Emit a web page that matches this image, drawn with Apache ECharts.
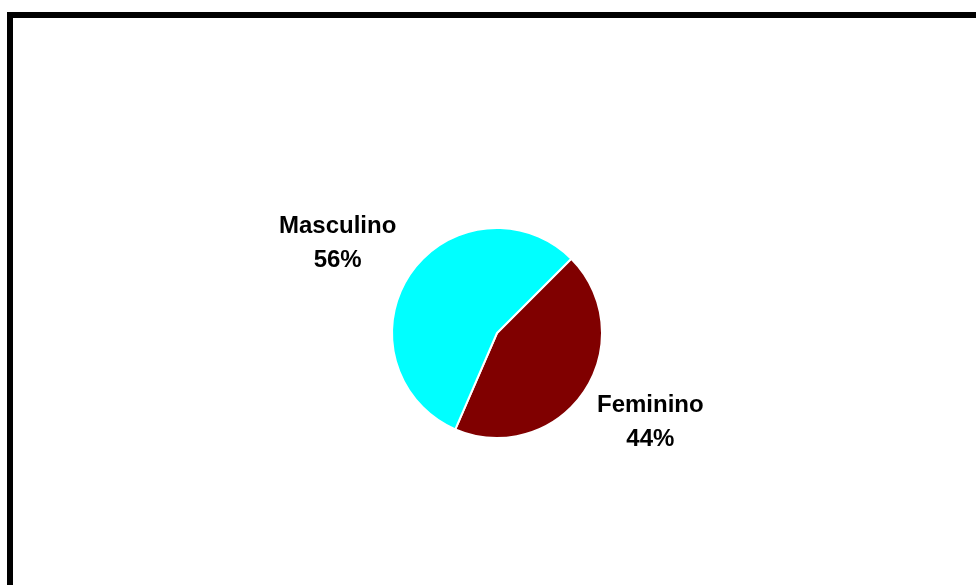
<!DOCTYPE html>
<html>
<head>
<meta charset="utf-8">
<script src="https://cdn.jsdelivr.net/npm/echarts@6/dist/echarts.min.js"></script>
<style>
  html, body { margin: 0; padding: 0; background: #fff; }
  #chart { width: 976px; height: 585px; }
</style>
</head>
<body>
<div id="chart"></div>
<script>
// data
const categories = ["Feminino", "Masculino"];
const values = [44, 56];
const colors = ["#800000", "#00FFFF"];

const myChart = echarts.init(document.getElementById("chart"));

// labels sit a bit counter-clockwise of the slice middle, like in the original
const LABEL_DIST = 180;
const LABEL_SHIFT = -4.5 * Math.PI / 180;

const option = {
  backgroundColor: "#fff",
  animation: false,
  graphic: [
    {
      // thick frame, open to the right and bottom (runs off the page)
      type: "rect",
      shape: { x: 10, y: 15, width: 1200, height: 1000 },
      style: { fill: "none", stroke: "#000", lineWidth: 6 },
      silent: true,
      z: 10,
    },
  ],
  series: [
    {
      type: "pie",
      center: [497, 333],
      radius: 105,
      startAngle: 45,
      clockwise: true,
      data: categories.map((name, i) => ({
        name: name,
        value: values[i],
        itemStyle: { color: colors[i] },
      })),
      itemStyle: { borderColor: "#fff", borderWidth: 2 },
      label: {
        show: true,
        position: "outside",
        formatter: (p) => `${p.name}\n${Math.round(p.percent)}%`,
        color: "#000",
        fontFamily: "Liberation Sans, Arial, sans-serif",
        fontWeight: "bold",
        fontSize: 24,
        lineHeight: 34,
      },
      labelLine: { show: false },
      labelLayout: (params) => {
        const lay = myChart.getModel().getSeriesByIndex(0).getData().getItemLayout(params.dataIndex);
        const mid = (lay.startAngle + lay.endAngle) / 2 + LABEL_SHIFT;
        return {
          x: lay.cx + LABEL_DIST * Math.cos(mid) - 3,
          y: lay.cy + LABEL_DIST * Math.sin(mid),
          align: "center",
          verticalAlign: "middle",
        };
      },
      emphasis: { disabled: true },
    },
  ],
};

myChart.setOption(option);
</script>
</body>
</html>
